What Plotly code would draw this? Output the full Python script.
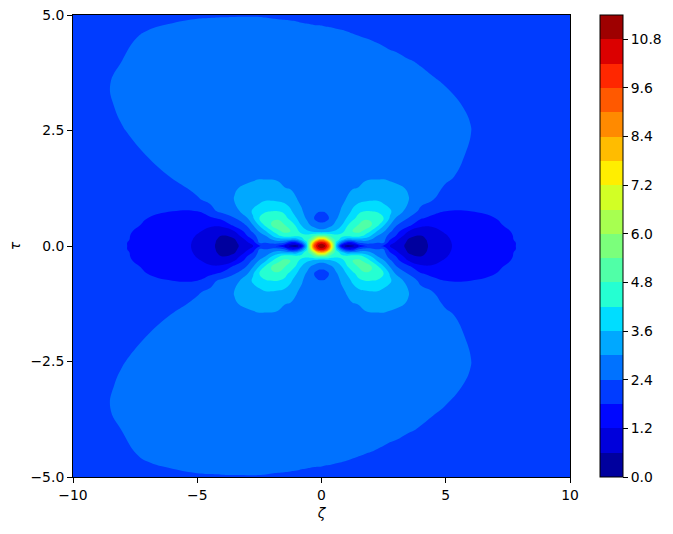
import numpy as np
import plotly.graph_objects as go

# Values. The surface mirrors in tau; x>=0 and x<0 agree close to the centre
x_right = [0, 0.15, 0.3, 0.45, 0.6, 0.8, 1, 1.25, 1.5, 1.75, 2, 2.25, 2.5, 2.75, 3, 3.5, 4, 4.5, 5, 6, 7, 8, 9, 10]
x_far_left = [-10, -9, -8, -7, -6, -5, -4.5, -4]
tau_low = [0, 0.07, 0.14, 0.22, 0.32, 0.45, 0.6, 0.75, 1, 1.25, 1.5, 2, 2.5, 3, 3.5, 4]
tau_top = [4.5, 5]

z_right = [
    [11.2, 10.8, 9.5, 6.6, 3.6, 1.2, 0.25, 0.4, 1.2, 1.7, 1.95, 2.05, 1.65, 1.2, 0.95, 0.42, 0.33, 0.8, 1.1, 1.5, 1.71, 1.82, 1.92, 2.0],
    [10.6, 10.1, 8.6, 6.0, 4.0, 2.6, 1.6, 1.5, 2.4, 2.6, 2.55, 2.4, 2.45, 1.45, 1.1, 0.46, 0.36, 0.82, 1.11, 1.5, 1.71, 1.82, 1.92, 2.0],
    [8.2, 7.8, 6.2, 5.0, 4.6, 3.9, 3.3, 3.2, 3.3, 3.3, 3.0, 2.75, 2.6, 1.85, 1.35, 0.55, 0.42, 0.85, 1.13, 1.52, 1.72, 1.83, 1.92, 2.0],
    [5.2, 5.2, 4.8, 4.5, 4.4, 4.4, 4.35, 4.5, 4.5, 4.05, 3.55, 3.0, 2.8, 2.1, 1.78, 0.78, 0.58, 0.95, 1.17, 1.55, 1.73, 1.83, 1.93, 2.0],
    [3.2, 3.25, 3.4, 3.6, 3.7, 4.0, 4.35, 4.8, 4.95, 4.65, 4.15, 3.55, 3.05, 2.55, 2.05, 1.2, 0.95, 1.1, 1.25, 1.6, 1.74, 1.84, 1.93, 2.0],
    [2.6, 2.65, 2.8, 3.0, 3.2, 3.55, 4.1, 4.5, 4.85, 5.15, 4.85, 4.35, 3.65, 3.0, 2.45, 1.95, 1.3, 1.25, 1.45, 1.7, 1.77, 1.87, 1.94, 2.0],
    [2.1, 2.15, 2.4, 2.75, 2.95, 3.2, 3.6, 4.05, 4.4, 4.7, 4.75, 4.55, 4.2, 3.55, 2.95, 2.37, 1.85, 1.65, 1.65, 1.76, 1.8, 1.9, 1.95, 2.0],
    [2.42, 2.45, 2.6, 2.72, 2.85, 3.05, 3.3, 3.7, 4.1, 4.2, 4.2, 4.15, 3.9, 3.7, 3.3, 2.78, 2.25, 1.95, 1.8, 1.8, 1.87, 1.92, 1.96, 2.0],
    [2.55, 2.58, 2.65, 2.75, 2.82, 2.9, 3.02, 3.3, 3.4, 3.5, 3.55, 3.55, 3.45, 3.3, 3.2, 3.02, 2.6, 2.4, 2.15, 1.95, 1.95, 1.95, 1.97, 2.0],
    [2.62, 2.64, 2.7, 2.78, 2.82, 2.85, 2.9, 2.97, 3.02, 3.15, 3.15, 3.15, 3.1, 3.08, 3.07, 2.97, 2.7, 2.55, 2.33, 2.1, 2.0, 1.98, 1.98, 2.0],
    [2.7, 2.7, 2.72, 2.75, 2.78, 2.8, 2.82, 2.84, 2.85, 2.9, 2.95, 2.95, 2.97, 2.95, 2.9, 2.85, 2.68, 2.6, 2.5, 2.2, 2.05, 2.0, 1.99, 2.0],
    [2.75, 2.75, 2.75, 2.78, 2.8, 2.8, 2.8, 2.82, 2.82, 2.82, 2.8, 2.78, 2.78, 2.75, 2.72, 2.7, 2.62, 2.58, 2.55, 2.36, 2.12, 2.02, 2.0, 2.0],
    [2.75, 2.75, 2.75, 2.75, 2.75, 2.75, 2.75, 2.75, 2.75, 2.75, 2.75, 2.72, 2.72, 2.7, 2.7, 2.65, 2.58, 2.55, 2.52, 2.41, 2.15, 2.04, 2.01, 2.0],
    [2.7, 2.7, 2.7, 2.7, 2.7, 2.7, 2.7, 2.7, 2.7, 2.7, 2.68, 2.68, 2.66, 2.65, 2.62, 2.6, 2.55, 2.5, 2.47, 2.37, 2.12, 2.04, 2.01, 2.0],
    [2.65, 2.65, 2.65, 2.65, 2.65, 2.65, 2.65, 2.65, 2.65, 2.65, 2.63, 2.62, 2.61, 2.6, 2.58, 2.55, 2.5, 2.45, 2.39, 2.25, 2.1, 2.03, 2.0, 1.99],
    [2.6, 2.6, 2.6, 2.6, 2.6, 2.6, 2.6, 2.6, 2.6, 2.62, 2.6, 2.58, 2.55, 2.52, 2.5, 2.42, 2.37, 2.3, 2.2, 2.15, 2.05, 2.02, 2.0, 1.98],
]

z_far_left = [
    [2.0, 1.92, 1.82, 1.71, 1.5, 1.1, 0.8, 0.33],
    [2.0, 1.92, 1.82, 1.71, 1.5, 1.11, 0.82, 0.36],
    [2.0, 1.92, 1.83, 1.72, 1.52, 1.13, 0.85, 0.42],
    [2.0, 1.93, 1.83, 1.73, 1.55, 1.17, 0.95, 0.58],
    [2.0, 1.93, 1.84, 1.74, 1.6, 1.25, 1.1, 0.95],
    [2.02, 1.94, 1.87, 1.77, 1.7, 1.45, 1.25, 1.3],
    [2.03, 1.95, 1.9, 1.8, 1.76, 1.65, 1.65, 1.95],
    [2.04, 1.97, 1.94, 1.87, 1.8, 1.8, 2.2, 2.55],
    [2.05, 2.0, 2.0, 2.02, 2.05, 2.35, 2.5, 2.75],
    [2.06, 2.03, 2.08, 2.15, 2.25, 2.5, 2.6, 2.75],
    [2.08, 2.06, 2.15, 2.27, 2.42, 2.6, 2.65, 2.72],
    [2.1, 2.15, 2.27, 2.42, 2.58, 2.68, 2.7, 2.72],
    [2.12, 2.22, 2.38, 2.55, 2.65, 2.7, 2.72, 2.72],
    [2.14, 2.24, 2.48, 2.6, 2.68, 2.72, 2.72, 2.72],
    [2.15, 2.3, 2.5, 2.62, 2.68, 2.7, 2.7, 2.7],
    [2.15, 2.22, 2.41, 2.6, 2.65, 2.65, 2.65, 2.65],
]

# top two rows are not mirrored in x, so they run over the whole width
z_top_45 = [1.98, 2.02, 2.15, 2.6, 2.6, 2.6, 2.6, 2.58,
            2.58, 2.58, 2.58, 2.58, 2.575, 2.57, 2.56, 2.55, 2.54, 2.53, 2.52, 2.51, 2.505, 2.5, 2.5,
            2.5, 2.49, 2.485, 2.48, 2.47, 2.46, 2.45, 2.43, 2.415, 2.4, 2.38, 2.35, 2.32, 2.28, 2.25, 2.2,
            2.15, 2.12, 2.1, 2.05, 2.02, 2.0, 1.98, 1.97]
z_top_50 = [1.9, 1.95, 2.0, 2.0, 2.29, 2.36, 2.37, 2.38,
            2.384, 2.385, 2.385, 2.383, 2.378, 2.37, 2.365, 2.36, 2.355, 2.35, 2.34, 2.335, 2.33, 2.325, 2.32,
            2.315, 2.31, 2.308, 2.3, 2.295, 2.293, 2.283, 2.28, 2.265, 2.26, 2.25, 2.22, 2.2, 2.18, 2.15, 2.12,
            2.08, 2.05, 2.03, 2.0, 1.98, 1.97, 1.96, 1.95]

jet_colors = [(0, 0, 158), (0, 0, 219), (0, 7, 255), (0, 60, 255), (0, 114, 255), (0, 168, 255), (0, 221, 255),
              (37, 255, 210), (80, 255, 167), (123, 255, 123), (167, 255, 80), (210, 255, 37), (255, 238, 0),
              (255, 188, 0), (255, 138, 0), (255, 89, 0), (255, 39, 0), (219, 0, 0), (158, 0, 0)]
color_ticks = [0, 1.2, 2.4, 3.6, 4.8, 6.0, 7.2, 8.4, 9.6, 10.8]
x_ticks = [-10, -5, 0, 5, 10]
y_ticks = [-5, -2.5, 0, 2.5, 5]

# stitch the half tables into one grid: far left, mirrored middle, right
x_right = np.array(x_right)
n_mirror = int(np.sum((x_right > 0) & (x_right <= 3.5)))
mirror_cols = np.arange(n_mirror, 0, -1)
xs = np.concatenate([x_far_left, -x_right[mirror_cols], x_right])
z_low = np.hstack([np.array(z_far_left), np.array(z_right)[:, mirror_cols], np.array(z_right)])
z_up = np.vstack([z_low, z_top_45, z_top_50])
ys_up = np.array(tau_low + tau_top)

# full tau range, mirrored
ys = np.concatenate([-ys_up[:0:-1], ys_up])
z = np.vstack([z_up[:0:-1], z_up])

n = len(jet_colors)
colorscale = []
for i, c in enumerate(jet_colors):
    col = f"rgb({c[0]},{c[1]},{c[2]})"
    colorscale.append([i / n, col])
    colorscale.append([(i + 1) / n, col])

fig = go.Figure(go.Contour(
    x=xs, y=ys, z=z,
    zmin=0, zmax=11.4,
    colorscale=colorscale,
    autocontour=False,
    contours=dict(start=0, end=11.4, size=0.6, coloring="fill", showlines=False),
    line=dict(width=0, smoothing=1.3),
    hoverinfo="skip",
    colorbar=dict(
        x=527 / 497, xanchor="left",
        y=0, yanchor="bottom",
        len=1, lenmode="fraction",
        thickness=23, thicknessmode="pixels",
        xpad=0, ypad=0,
        outlinecolor="black", outlinewidth=1,
        tickmode="array", tickvals=color_ticks, ticktext=[f"{t:.1f}" for t in color_ticks],
        ticks="outside", ticklen=5, tickwidth=1, tickcolor="black",
        tickfont=dict(family="DejaVu Sans", size=13.9, color="black"),
    ),
))

axis_style = dict(
    showgrid=False, zeroline=False, showline=True, mirror=True,
    linecolor="black", linewidth=1,
    ticks="outside", ticklen=5, tickwidth=1, tickcolor="black",
    tickfont=dict(family="DejaVu Sans", size=13.9, color="black"),
)
fig.update_xaxes(range=[-10, 10], tickvals=x_ticks, ticktext=["−10", "−5", "0", "5", "10"],
                 title=dict(text="<i>ζ</i>", font=dict(family="DejaVu Sans", size=13.9, color="black"), standoff=6),
                 **axis_style)
fig.update_yaxes(range=[-5, 5], tickvals=y_ticks, ticktext=["−5.0", "−2.5", "0.0", "2.5", "5.0"],
                 title=dict(text="<i>τ</i>", font=dict(family="DejaVu Sans", size=13.9, color="black"), standoff=6),
                 **axis_style)
fig.update_layout(
    width=673, height=534,
    margin=dict(l=73, r=103, t=15, b=57, pad=0, autoexpand=False),
    plot_bgcolor="white", paper_bgcolor="white",
)

# drop the browser's default page margin so the figure sits at the window corner
fig.write_html("out.html", post_script="document.body.style.margin='0';", config={"displayModeBar": False})
